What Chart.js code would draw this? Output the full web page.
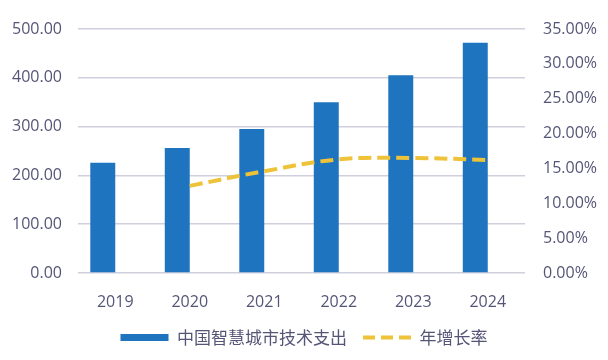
<!DOCTYPE html>
<html>
<head>
<meta charset="utf-8">
<script src="https://cdn.jsdelivr.net/npm/chart.js@4"></script>
<style>
  html, body { margin: 0; padding: 0; background: #fff; }
  #wrap { width: 608px; height: 360px; }
</style>
</head>
<body>
<div id="wrap"><canvas id="c"></canvas></div>
<script>
var years = ["2019", "2020", "2021", "2022", "2023", "2024"];
var spending = [226, 256, 295, 350, 405, 472];        // 中国智慧城市技术支出
var growth = [null, 12.5, 14.6, 16.3, 16.5, 16.2];     // 年增长率 (%)
var spacer = [null, null, null, null, null, null];     // empty slot so bars sit left of centre

var textColor = "#555577";
var gridColor = "#cfcfdd";

new Chart(document.getElementById("c"), {
  type: "bar",
  data: {
    labels: years,
    datasets: [
      {
        label: "中国智慧城市技术支出",
        data: spending,
        backgroundColor: "#1E74BE",
        borderWidth: 0,
        yAxisID: "y",
        order: 1
      },
      {
        label: "spacer",
        data: spacer,
        backgroundColor: "rgba(0,0,0,0)",
        yAxisID: "y",
        order: 1
      },
      {
        type: "line",
        label: "年增长率",
        data: growth,
        borderColor: "#EEC33A",
        backgroundColor: "#EEC33A",
        borderWidth: 4,
        borderDash: [13, 6],
        pointRadius: 0,
        tension: 0.4,
        fill: false,
        yAxisID: "y1",
        order: 0
      }
    ]
  },
  options: {
    responsive: true,
    maintainAspectRatio: false,
    animation: false,
    layout: { padding: { top: 29, bottom: 4 } },
    datasets: {
      bar: { categoryPercentage: 0.67, barPercentage: 1.0 }
    },
    plugins: {
      tooltip: { enabled: false },
      legend: {
        position: "bottom",
        labels: {
          usePointStyle: true,
          pointStyleWidth: 48,
          boxHeight: 7,
          color: textColor,
          font: { family: "'Noto Sans CJK SC'", size: 17 },
          padding: 16,
          filter: function (item) { return item.text !== "spacer"; },
          sort: function (a, b) { return a.datasetIndex - b.datasetIndex; },
          generateLabels: function (chart) {
            var items = Chart.defaults.plugins.legend.labels.generateLabels(chart);
            items.forEach(function (it) {
              if (it.datasetIndex === 2) {
                it.pointStyle = "line";
                it.lineWidth = 4;
                it.lineDash = [12, 6];
              } else {
                it.pointStyle = "rect";
                it.lineWidth = 0;
              }
            });
            return items;
          }
        }
      }
    },
    scales: {
      x: {
        afterFit: function (s) { s.height = 40; },
        grid: { display: false, drawTicks: false },
        border: { display: false },
        ticks: {
          color: textColor,
          font: { family: "'Open Sans'", size: 16 },
          padding: 20
        }
      },
      y: {
        position: "left",
        min: 0,
        max: 500,
        afterFit: function (s) { s.width = 78; },
        grid: { color: gridColor, lineWidth: 1.5, drawTicks: false },
        border: { display: false },
        ticks: {
          stepSize: 100,
          padding: 16,
          color: textColor,
          font: { family: "'Open Sans'", size: 16 },
          callback: function (v) { return v.toFixed(2); }
        }
      },
      y1: {
        position: "right",
        min: 0,
        max: 35,
        afterFit: function (s) { s.width = 83; },
        grid: { display: false, drawTicks: false },
        border: { display: false },
        ticks: {
          stepSize: 5,
          padding: 18,
          color: textColor,
          font: { family: "'Open Sans'", size: 16 },
          callback: function (v) { return v.toFixed(2) + "%"; }
        }
      }
    }
  }
});
</script>
</body>
</html>
